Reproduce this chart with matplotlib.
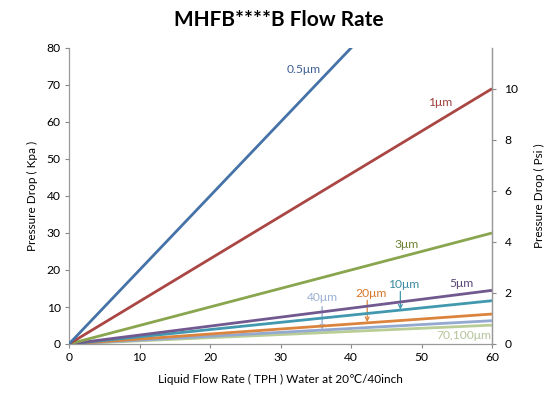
import matplotlib
matplotlib.use("Agg")
import matplotlib.pyplot as plt

plt.rcParams['font.family'] = ['Lato', 'DejaVu Sans']

# Data
flow = [0, 60]
series_names = ["0.5μm", "1μm", "3μm", "5μm", "10μm", "20μm", "40μm", "70,100μm"]
series_vals = [
    [0, 120],
    [0, 69],
    [0, 30],
    [0, 14.5],
    [0, 11.7],
    [0, 8.1],
    [0, 6.3],
    [0, 5.1],
]
line_colors = ["#4572A7", "#AA4643", "#89A54E", "#71588F", "#4198AF", "#DB843D", "#93A9CF", "#B9CD96"]
text_colors = ["#3F6190", "#A0413E", "#6E8233", "#5A4676", "#3B8AA0", "#D8782A", "#9BB0D3", "#B5C39A"]
label_pos = [(33.3, 74.2), (52.6, 65.2), (47.9, 26.9), (55.6, 16.4),
             (47.4, 16.1), (42.8, 13.6), (36.0, 12.5), (56.0, 2.3)]
arrows = {4: ((47.0, 14.2), (47.0, 9.3)),
          5: ((42.3, 11.8), (42.3, 5.9)),
          6: ((35.9, 10.1), (35.9, 3.9))}

left_ticks = [0, 10, 20, 30, 40, 50, 60, 70, 80]
right_ticks = [0, 2, 4, 6, 8, 10]
x_ticks = [0, 10, 20, 30, 40, 50, 60]
KPA_PER_PSI = 6.895

fig = plt.figure(figsize=(5.57, 3.94), dpi=100)
ax = fig.add_axes([69/557, 50/394, 423/557, 296/394])

for i, name in enumerate(series_names):
    ax.plot(flow, series_vals[i], color=line_colors[i], lw=2.0, solid_capstyle='butt', zorder=3 + (8 - i) * 0.01)
    ax.text(label_pos[i][0], label_pos[i][1], name, color=text_colors[i], fontsize=8.7,
            ha='center', va='center')
for i, (start, end) in arrows.items():
    ax.annotate("", xy=end, xytext=start,
                arrowprops=dict(arrowstyle="->", color=line_colors[i], lw=0.9,
                                shrinkA=0, shrinkB=0, mutation_scale=7))

ax.set_xlim(0, 60)
ax.set_ylim(0, 80)
ax.set_xticks(x_ticks)
ax.set_yticks(left_ticks)
ax.tick_params(axis='both', labelsize=8.7, colors='#888888', labelcolor='black', length=3, width=0.8, pad=3)

ax.spines['top'].set_visible(False)
for s in ['left', 'bottom', 'right']:
    ax.spines[s].set_color('#999999')
    ax.spines[s].set_linewidth(0.9)

ax2 = ax.twinx()
ax2.set_ylim(0, 80 / KPA_PER_PSI)
ax2.set_yticks(right_ticks)
ax2.tick_params(axis='y', labelsize=8.7, colors='#888888', labelcolor='black', length=3, width=0.8, pad=6)
for s in ['top', 'left', 'bottom']:
    ax2.spines[s].set_visible(False)
ax2.spines['right'].set_color('#999999')
ax2.spines['right'].set_linewidth(0.9)

ax.set_xlabel("Liquid Flow Rate ( TPH ) Water at 20℃/40inch", fontsize=8.5, labelpad=8)
ax.set_ylabel("Pressure Drop ( Kpa )", fontsize=8.5, labelpad=6)
ax2.set_ylabel("Pressure Drop ( Psi )", fontsize=8.5, labelpad=11)

fig.text(0.5, 0.949, "MHFB****B Flow Rate", ha='center', va='center', fontsize=15, fontweight='bold')

fig.savefig("out.png", dpi=100, facecolor='white')
